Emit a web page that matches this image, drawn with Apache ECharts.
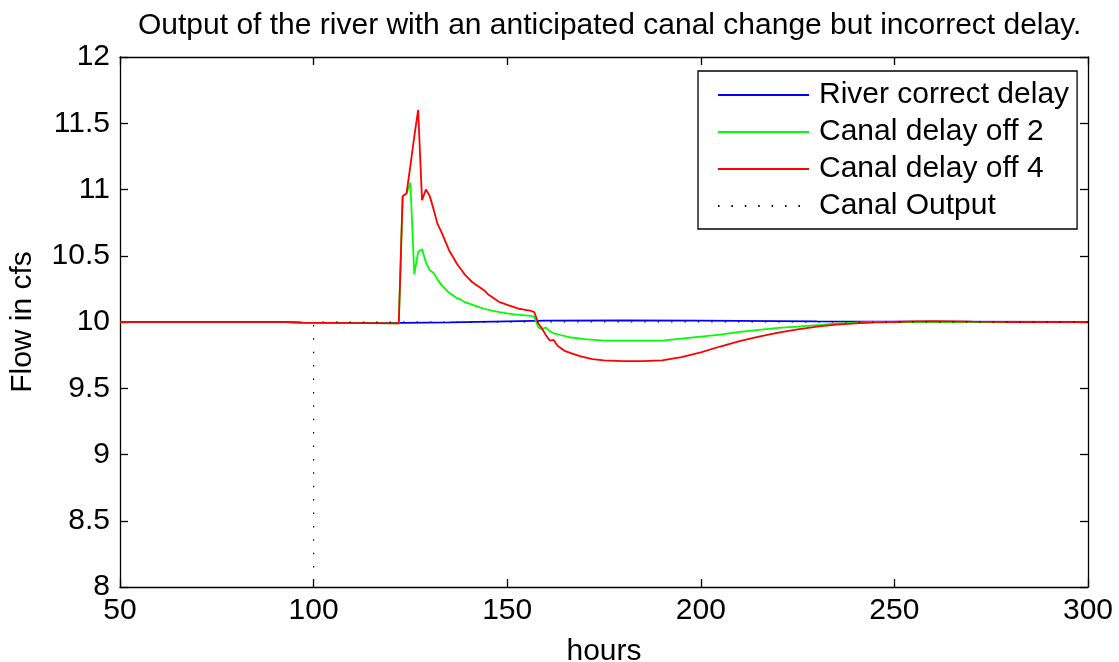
<!DOCTYPE html>
<html>
<head>
<meta charset="utf-8">
<title>Canal delay</title>
<script src="https://cdn.jsdelivr.net/npm/echarts@6/dist/echarts.min.js"></script>
<style>
  html, body { margin: 0; padding: 0; background: #fff; }
  #container { width: 1119px; height: 662px; }
</style>
</head>
<body>
<div id="container"></div>
<script>
var dom = document.getElementById("container");
var myChart = echarts.init(dom);
var option = null;

var FONT = "Liberation Sans, Arial, Helvetica, sans-serif";

// x ticks / y ticks
var xTicks = [50, 100, 150, 200, 250, 300];
var yTicks = [8, 8.5, 9, 9.5, 10, 10.5, 11, 11.5, 12];

// River correct delay (blue)
var riverHours = [50, 93, 97, 123, 135, 150, 160, 180, 200, 230, 260, 300];
var riverFlow = [10.0, 10.0, 9.995, 9.993, 9.997, 10.005, 10.01, 10.012, 10.01, 10.005, 10.002, 10.0];

// Canal delay off 2 (green)
var off2Hours = [50, 93, 97, 122, 123, 124, 125, 126, 127, 128, 129, 130, 131, 132, 133, 134, 135, 136, 137, 138, 139, 140,
  142, 144, 146, 148, 150, 152, 154, 156, 157, 158, 159, 160, 161, 162, 164, 166, 170, 175, 190, 195, 200, 205, 210,
  215, 220, 225, 230, 235, 240, 245, 300];
var off2Flow = [10.0, 10.0, 9.995, 9.99, 10.95, 10.97, 11.05, 10.36, 10.53, 10.55, 10.45, 10.39, 10.37, 10.32, 10.28, 10.25,
  10.22, 10.2, 10.18, 10.17, 10.15, 10.14, 10.12, 10.1, 10.085, 10.075, 10.065, 10.058, 10.052, 10.046, 10.04, 9.96,
  9.945, 9.96, 9.93, 9.915, 9.9, 9.885, 9.87, 9.86, 9.86, 9.875, 9.89, 9.905, 9.925, 9.94, 9.955, 9.965, 9.977, 9.988,
  9.995, 10.0, 10.0];

// Canal delay off 4 (red)
var off4Hours = [50, 93, 97, 122, 123, 124, 125, 126, 127, 128, 129, 130, 131, 132, 133, 134, 135, 136, 137, 138, 139, 140,
  141, 142, 143, 144, 145, 146, 147, 148, 149, 150, 151, 152, 153, 154, 155, 156, 157, 158, 159, 160, 161, 162, 163,
  164, 165, 167, 169, 172, 175, 180, 185, 190, 195, 200, 205, 210, 215, 220, 225, 230, 235, 240, 245, 250, 255, 260,
  265, 270, 280, 300];
var off4Flow = [10.0, 10.0, 9.995, 9.99, 10.95, 10.97, 11.18, 11.4, 11.6, 10.92, 11.0, 10.95, 10.85, 10.74, 10.68, 10.61,
  10.54, 10.49, 10.44, 10.4, 10.36, 10.33, 10.3, 10.28, 10.26, 10.24, 10.21, 10.19, 10.17, 10.15, 10.14, 10.13, 10.12,
  10.11, 10.1, 10.095, 10.09, 10.085, 10.075, 9.99, 9.95, 9.9, 9.86, 9.865, 9.82, 9.8, 9.78, 9.76, 9.74, 9.72, 9.71,
  9.705, 9.705, 9.71, 9.735, 9.77, 9.815, 9.855, 9.89, 9.92, 9.945, 9.965, 9.98, 9.99, 9.997, 10.0, 10.004, 10.006,
  10.005, 10.003, 10.0, 10.0];

// Canal Output (dotted)
var canalHours = [50, 100, 100, 300];
var canalFlow = [0, 0, 10, 10];

function zip(xs, ys) {
  return xs.map(function (x, i) { return [x, ys[i]]; });
}

var axisLine = { show: true, lineStyle: { color: "#000", width: 1.3 } };
var axisTick = { show: true, inside: true, length: 8, lineStyle: { color: "#000", width: 1.3 } };

option = {
  backgroundColor: "#fff",
  animation: false,
  title: {
    text: "Output of the river with an anticipated canal change but incorrect delay.",
    left: 133,
    top: 6,
    textStyle: { fontFamily: FONT, fontSize: 30, fontWeight: "normal", color: "#000" }
  },
  legend: {
    orient: "vertical",
    left: 698,
    top: 71,
    padding: [9, 8, 8, 19],
    itemGap: 7,
    itemWidth: 91,
    itemHeight: 14,
    backgroundColor: "#fff",
    borderColor: "#000",
    borderWidth: 1.3,
    borderRadius: 0,
    itemStyle: { opacity: 0 },
    textStyle: { fontFamily: FONT, fontSize: 30, color: "#000", lineHeight: 30, padding: [0, 0, 0, 5] },
    data: ["River correct delay", "Canal delay off 2", "Canal delay off 4", "Canal Output"]
  },
  grid: { left: 120, right: 31, top: 57, bottom: 75, containLabel: false, outerBoundsMode: "none" },
  xAxis: [
    {
      type: "value",
      min: xTicks[0],
      max: xTicks[xTicks.length - 1],
      interval: 50,
      name: "hours",
      nameLocation: "middle",
      nameGap: 50,
      nameTextStyle: { fontFamily: FONT, fontSize: 30, color: "#000" },
      axisLine: axisLine,
      axisTick: axisTick,
      axisLabel: { fontFamily: FONT, fontSize: 30, color: "#000", margin: 9 },
      splitLine: { show: false }
    },
    {
      type: "value",
      position: "top",
      min: xTicks[0],
      max: xTicks[xTicks.length - 1],
      interval: 50,
      axisLine: axisLine,
      axisTick: axisTick,
      axisLabel: { show: false },
      splitLine: { show: false }
    }
  ],
  yAxis: [
    {
      type: "value",
      min: yTicks[0],
      max: yTicks[yTicks.length - 1],
      interval: 0.5,
      name: "Flow in cfs",
      nameLocation: "middle",
      nameGap: 82,
      nameTextStyle: { fontFamily: FONT, fontSize: 30, color: "#000" },
      axisLine: axisLine,
      axisTick: axisTick,
      axisLabel: { fontFamily: FONT, fontSize: 30, color: "#000", margin: 10 },
      splitLine: { show: false }
    },
    {
      type: "value",
      position: "right",
      min: yTicks[0],
      max: yTicks[yTicks.length - 1],
      interval: 0.5,
      axisLine: axisLine,
      axisTick: axisTick,
      axisLabel: { show: false },
      splitLine: { show: false }
    }
  ],
  series: [
    {
      name: "River correct delay",
      type: "line",
      symbol: "none",
      color: "#0000ff",
      lineStyle: { color: "#0000ff", width: 1.8 },
      data: zip(riverHours, riverFlow)
    },
    {
      name: "Canal delay off 2",
      type: "line",
      symbol: "none",
      color: "#00ff00",
      lineStyle: { color: "#00ff00", width: 1.8 },
      data: zip(off2Hours, off2Flow)
    },
    {
      name: "Canal delay off 4",
      type: "line",
      symbol: "none",
      color: "#ff0000",
      lineStyle: { color: "#ff0000", width: 1.8 },
      data: zip(off4Hours, off4Flow)
    },
    {
      name: "Canal Output",
      type: "line",
      symbol: "none",
      color: "#000",
      lineStyle: { color: "#000", width: 1.2, type: [1.5, 11.9] },
      data: zip(canalHours, canalFlow)
    }
  ]
};

if (option && typeof option === "object") {
  myChart.setOption(option, true);
}
</script>
</body>
</html>
